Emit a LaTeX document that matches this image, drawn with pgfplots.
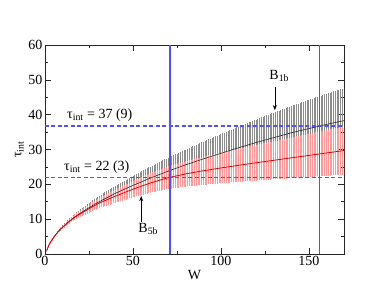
\documentclass[border=0pt]{standalone}
\usepackage{fontspec}
\setmainfont{Liberation Serif}
\usepackage{pgfplots}
\usepackage{pgfplotstable}
\pgfplotsset{compat=1.18}
\usetikzlibrary{arrows.meta}
\definecolor{guideblue}{RGB}{80,80,255}
% columns: W, black centre, black error, red centre, red error
\pgfplotstableread{
W b eb r er
1 1.0 0.06 1.0 0.05
2 2.3 0.11 2.3 0.09
3 3.3 0.17 3.3 0.14
4 4.1 0.22 4.1 0.19
5 4.8 0.28 4.8 0.24
6 5.5 0.33 5.5 0.28
7 6.1 0.39 6.1 0.33
8 6.7 0.44 6.7 0.38
9 7.2 0.50 7.2 0.42
10 7.7 0.55 7.65 0.47
11 8.15 0.61 8.1 0.52
12 8.6 0.66 8.55 0.56
13 9.05 0.72 9.0 0.61
14 9.5 0.77 9.4 0.66
15 9.9 0.83 9.8 0.71
16 10.3 0.88 10.2 0.75
17 10.65 0.94 10.55 0.80
18 11.0 0.99 10.85 0.85
19 11.35 1.05 11.2 0.89
20 11.7 1.10 11.5 0.94
21 12.0 1.16 11.8 0.99
22 12.35 1.21 12.1 1.03
23 12.65 1.27 12.4 1.08
24 13.0 1.32 12.7 1.13
25 13.3 1.38 13.0 1.18
26 13.6 1.43 13.3 1.22
27 13.9 1.49 13.55 1.27
28 14.2 1.54 13.85 1.32
29 14.5 1.60 14.1 1.36
30 14.8 1.65 14.4 1.41
31 15.05 1.71 14.65 1.46
32 15.3 1.76 14.85 1.50
33 15.6 1.82 15.1 1.55
34 15.85 1.87 15.3 1.60
35 16.1 1.93 15.5 1.65
36 16.35 1.98 15.75 1.69
37 16.6 2.04 15.95 1.74
38 16.9 2.09 16.2 1.79
39 17.15 2.15 16.4 1.83
40 17.4 2.20 16.6 1.88
41 17.65 2.26 16.8 1.93
42 17.85 2.31 17.0 1.97
43 18.1 2.37 17.2 2.02
44 18.3 2.42 17.4 2.07
45 18.55 2.48 17.6 2.12
46 18.8 2.53 17.8 2.16
47 19.0 2.59 18.0 2.21
48 19.25 2.64 18.2 2.26
49 19.45 2.70 18.4 2.30
50 19.7 2.75 18.6 2.35
51 19.9 2.81 18.78 2.40
52 20.1 2.86 18.96 2.44
53 20.3 2.92 19.14 2.49
54 20.5 2.97 19.32 2.54
55 20.75 3.03 19.5 2.59
56 20.95 3.08 19.68 2.63
57 21.15 3.14 19.86 2.68
58 21.4 3.19 20.04 2.73
59 21.6 3.25 20.22 2.77
60 21.8 3.30 20.4 2.82
61 22.0 3.36 20.55 2.86
62 22.2 3.41 20.7 2.91
63 22.4 3.47 20.85 2.95
64 22.6 3.52 21.0 2.99
65 22.8 3.58 21.15 3.04
66 23.0 3.63 21.3 3.08
67 23.2 3.69 21.45 3.13
68 23.4 3.74 21.6 3.17
69 23.6 3.80 21.75 3.22
70 23.8 3.85 21.9 3.26
71 23.98 3.91 22.01 3.30
72 24.16 3.96 22.12 3.34
73 24.34 4.02 22.23 3.38
74 24.52 4.07 22.34 3.42
75 24.7 4.13 22.45 3.46
76 24.88 4.18 22.56 3.50
77 25.06 4.24 22.67 3.54
78 25.24 4.29 22.78 3.58
79 25.42 4.35 22.89 3.62
80 25.6 4.40 23.0 3.66
81 25.77 4.46 23.09 3.70
82 25.94 4.51 23.18 3.74
83 26.11 4.57 23.27 3.77
84 26.28 4.62 23.36 3.81
85 26.45 4.68 23.45 3.85
86 26.62 4.73 23.54 3.89
87 26.79 4.79 23.63 3.93
88 26.96 4.84 23.72 3.96
89 27.13 4.90 23.81 4.00
90 27.3 4.95 23.9 4.04
91 27.46 5.01 23.98 4.08
92 27.62 5.06 24.06 4.11
93 27.78 5.12 24.14 4.15
94 27.94 5.17 24.22 4.18
95 28.1 5.23 24.3 4.22
96 28.26 5.28 24.38 4.26
97 28.42 5.34 24.46 4.29
98 28.58 5.39 24.54 4.33
99 28.74 5.45 24.62 4.36
100 28.9 5.50 24.7 4.40
101 29.06 5.56 24.78 4.44
102 29.22 5.61 24.85 4.47
103 29.38 5.67 24.93 4.51
104 29.54 5.72 25.0 4.54
105 29.7 5.78 25.08 4.58
106 29.86 5.83 25.15 4.61
107 30.02 5.89 25.23 4.65
108 30.18 5.94 25.3 4.68
109 30.34 6.00 25.38 4.72
110 30.5 6.05 25.45 4.76
111 30.65 6.11 25.53 4.79
112 30.8 6.16 25.6 4.83
113 30.95 6.22 25.68 4.86
114 31.1 6.27 25.75 4.90
115 31.25 6.33 25.83 4.93
116 31.4 6.38 25.9 4.97
117 31.55 6.44 25.98 5.01
118 31.7 6.49 26.05 5.04
119 31.85 6.55 26.13 5.08
120 32.0 6.60 26.2 5.11
121 32.14 6.66 26.27 5.15
122 32.28 6.71 26.34 5.18
123 32.42 6.77 26.41 5.22
124 32.56 6.82 26.48 5.25
125 32.7 6.88 26.55 5.29
126 32.84 6.93 26.62 5.33
127 32.98 6.99 26.69 5.36
128 33.12 7.04 26.76 5.40
129 33.26 7.10 26.83 5.43
130 33.4 7.15 26.9 5.47
131 33.54 7.21 26.97 5.50
132 33.68 7.26 27.04 5.54
133 33.82 7.32 27.11 5.57
134 33.96 7.37 27.18 5.61
135 34.1 7.43 27.25 5.65
136 34.24 7.48 27.32 5.68
137 34.38 7.54 27.39 5.72
138 34.52 7.59 27.46 5.75
139 34.66 7.65 27.53 5.79
140 34.8 7.70 27.6 5.82
141 34.92 7.76 27.67 5.86
142 35.04 7.81 27.74 5.90
143 35.16 7.87 27.81 5.93
144 35.28 7.92 27.88 5.97
145 35.4 7.98 27.95 6.00
146 35.52 8.03 28.02 6.04
147 35.64 8.09 28.09 6.07
148 35.76 8.14 28.16 6.11
149 35.88 8.20 28.23 6.15
150 36.0 8.25 28.3 6.18
151 36.12 8.31 28.37 6.22
152 36.24 8.36 28.44 6.25
153 36.36 8.42 28.51 6.29
154 36.48 8.47 28.58 6.32
155 36.6 8.53 28.65 6.36
156 36.72 8.58 28.72 6.39
157 36.84 8.64 28.79 6.43
158 36.96 8.69 28.86 6.47
159 37.08 8.75 28.93 6.50
160 37.2 8.80 29.0 6.54
161 37.31 8.86 29.07 6.57
162 37.42 8.91 29.14 6.61
163 37.53 8.97 29.21 6.64
164 37.64 9.02 29.28 6.68
165 37.75 9.08 29.35 6.72
166 37.86 9.13 29.42 6.75
167 37.97 9.19 29.49 6.79
168 38.08 9.24 29.56 6.82
169 38.19 9.30 29.63 6.86
170 38.3 9.35 29.7 6.89
}\data
\pgfplotstableread{
x y
0 36.8
170 36.8
}\hA
\pgfplotstableread{
x y
0 21.9
170 21.9
}\hB
\begin{document}
\begin{tikzpicture}[font=\fontsize{14}{16}\selectfont]
\begin{axis}[
  name=ax,
  scale only axis,
  width=299pt, height=209pt,
  xmin=0, xmax=170, ymin=0, ymax=60,
  xtick={0,50,100,150}, ytick={0,10,20,30,40,50,60},
  minor x tick num=1, minor y tick num=1,
  tick align=inside,
  major tick length=6pt, minor tick length=3pt,
  axis line style={line width=0.8pt, black!85},
  every tick/.style={black!85, line width=0.6pt},
  /pgf/number format/assume math mode=true,
  ticklabel style={font=\fontsize{14}{16}\selectfont},
  xticklabel style={yshift=1pt},
  yticklabel style={xshift=1pt},
  xlabel={W},
  ylabel={τ\textsubscript{int}},
  xlabel style={yshift=3pt},
  ylabel style={yshift=-2pt},
  clip=true,
]
% error bars
\addplot[draw=none, mark=none, forget plot,
  error bars/.cd, y dir=both, y explicit, error mark=none,
  error bar style={black!45, line width=0.8pt}]
  table[x=W, y=b, y error=eb]{\data};
\addplot[draw=none, mark=none, forget plot,
  error bars/.cd, y dir=both, y explicit, error mark=none,
  error bar style={red!40, line width=0.8pt}]
  table[x=W, y=r, y error=er]{\data};
% centre lines
\addplot[black!85, line width=0.6pt, mark=none] table[x=W, y=b]{\data};
\addplot[red!90!black, line width=0.8pt, mark=none] table[x=W, y=r]{\data};
% blue guide lines
\addplot[guideblue, line width=1.5pt, mark=none] coordinates {(71,0) (71,60)};
\addplot[guideblue, line width=1.5pt, mark=none] coordinates {(156,0) (156,60)};
\addplot[guideblue, line width=1.4pt, mark=none, dash pattern=on 4pt off 2.5pt] table[x=x, y=y]{\hA};
\addplot[guideblue, line width=1.4pt, mark=none, dash pattern=on 4pt off 2.5pt] table[x=x, y=y]{\hB};
% annotations
\node[anchor=base west, inner sep=0pt] at (axis cs:12.5,39.0) {τ\textsubscript{int} = 37 (9)};
\node[anchor=base west, inner sep=0pt] at (axis cs:10.8,24.1) {τ\textsubscript{int} = 22 (3)};
\node[anchor=base west, inner sep=0pt] at (axis cs:127.5,50.0) {B\textsubscript{1b}};
\node[anchor=base west, inner sep=0pt] at (axis cs:53,6.2) {B\textsubscript{5b}};
\draw[-{Stealth[length=5pt,width=4pt]}, line width=0.6pt] (axis cs:130.7,48.0) -- (axis cs:130.7,41.3);
\draw[-{Stealth[length=5pt,width=4pt]}, line width=0.6pt] (axis cs:54.7,9.3) -- (axis cs:54.7,16.6);
\end{axis}
\useasboundingbox ([xshift=-45pt,yshift=-46pt]ax.south west) rectangle ([xshift=44pt,yshift=45pt]ax.north east);
\end{tikzpicture}
\end{document}
